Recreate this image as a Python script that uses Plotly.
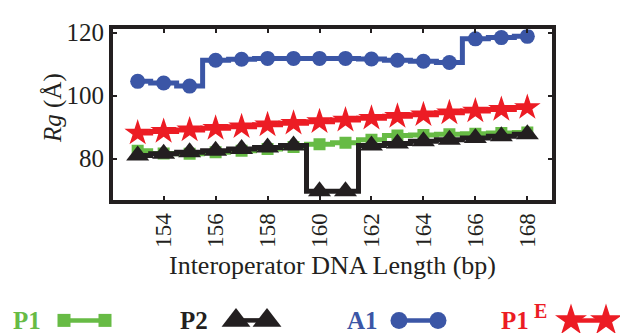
import plotly.graph_objects as go

# ---- data ----
length_bp = [153, 154, 155, 156, 157, 158, 159, 160, 161, 162, 163, 164, 165, 166, 167, 168]
rg_A1 = [104.5, 104.0, 103.0, 111.2, 111.5, 111.8, 111.8, 111.8, 111.8, 111.6, 111.2, 110.9, 110.5, 118.0, 118.4, 118.8]
rg_P1E = [88.1, 88.6, 89.1, 89.6, 90.1, 90.7, 91.2, 91.7, 92.2, 92.8, 93.4, 93.9, 94.5, 95.1, 95.6, 96.2]
rg_P1 = [82.5, 81.6, 81.5, 82.0, 82.5, 83.0, 83.7, 84.5, 85.0, 86.0, 87.3, 87.5, 87.7, 87.9, 88.1, 88.3]
rg_P2 = [81.0, 81.5, 82.0, 82.5, 83.0, 83.5, 84.1, 69.6, 69.6, 84.1, 84.8, 85.5, 86.0, 86.5, 87.1, 87.7]
x_ticks = [154, 156, 158, 160, 162, 164, 166, 168]
y_ticks = [80, 100, 120]

C_GREEN = "#67bb45"
C_BLACK = "#231f20"
C_BLUE = "#3b56a6"
C_RED = "#ec1c24"
FONT = "Liberation Serif, Times New Roman, serif"

W, H = 620, 333
L, R, T, B = 113, 552, 20, 196

fig = go.Figure()

series = [
    ("A1", rg_A1, C_BLUE, "circle", 15),
    ("P1E", rg_P1E, C_RED, "star", 20),
    ("P1", rg_P1, C_GREEN, "square", 12),
    ("P2", rg_P2, C_BLACK, "triangle-up", 20),
]
for name, ys, col, sym, sz in series:
    fig.add_trace(go.Scatter(
        x=length_bp, y=ys, mode="lines+markers", name=name,
        line=dict(color=col, width=5, shape="hvh"),
        marker=dict(symbol=sym, size=sz, color=col, line=dict(width=0)),
        showlegend=False, xaxis="x", yaxis="y",
    ))

# ---- custom legend (text before symbol) on a pixel-coordinate overlay axis ----
leg_y = 320
leg_items = [
    ("P1", C_GREEN, "square", 13, 64, 105, 27),
    ("P2", C_BLACK, "triangle-up", 25, 236, 267, 194),
    ("A1", C_BLUE, "circle", 17, 399, 438, 362),
    ("P1", C_RED, "star", 24, 571, 606, 515),
]
for label, col, sym, sz, xa, xb, tx in leg_items:
    fig.add_trace(go.Scatter(
        x=[xa, xb], y=[leg_y, leg_y], mode="lines+markers",
        line=dict(color=col, width=4.5),
        marker=dict(symbol=sym, size=sz, color=col, line=dict(width=0)),
        showlegend=False, xaxis="x2", yaxis="y2", hoverinfo="skip",
    ))
    fig.add_annotation(
        x=tx / W, y=1 - leg_y / H, xref="paper", yref="paper",
        text=f"<b>{label}</b>", showarrow=False,
        font=dict(family=FONT, size=25, color=col),
        xanchor="center", yanchor="middle",
    )
# superscript E of P1^E, drawn nearly full size and raised as in the reference
fig.add_annotation(
    x=540 / W, y=1 - 310 / H, xref="paper", yref="paper",
    text="<b>E</b>", showarrow=False,
    font=dict(family=FONT, size=20, color=C_RED),
    xanchor="center", yanchor="middle",
)
# y-axis title (placed as in the reference, slightly above the plot centre)
fig.add_annotation(
    x=53 / W, y=1 - 101 / H, xref="paper", yref="paper",
    text="<i>Rg</i> (Å)", showarrow=False, textangle=-90,
    font=dict(family=FONT, size=25, color=C_BLACK),
    xanchor="center", yanchor="middle",
)

axis_common = dict(
    showline=True, linecolor=C_BLACK, linewidth=4, mirror="ticks",
    ticks="inside", ticklen=4, tickwidth=2, tickcolor=C_BLACK,
    showgrid=False, zeroline=False,
)

fig.update_layout(
    width=W, height=H,
    margin=dict(l=0, r=0, t=0, b=0),
    paper_bgcolor="white", plot_bgcolor="rgba(0,0,0,0)",
    font=dict(family=FONT, color=C_BLACK),
    xaxis=dict(
        domain=[L / W, R / W], range=[152.05, 168.95],
        tickvals=x_ticks, tickangle=-90,
        tickfont=dict(family=FONT, size=23, color=C_BLACK),
        title=dict(text="Interoperator DNA Length (bp)",
                   font=dict(family=FONT, size=26, color=C_BLACK), standoff=10),
        **axis_common,
    ),
    yaxis=dict(
        domain=[1 - B / H, 1 - T / H], range=[66.8, 121.0],
        tickvals=y_ticks,
        tickfont=dict(family=FONT, size=25, color=C_BLACK),
        **axis_common,
    ),
    xaxis2=dict(domain=[0, 1], range=[0, W], visible=False, fixedrange=True, anchor="y2"),
    yaxis2=dict(domain=[0, 1], range=[H, 0], visible=False, fixedrange=True, anchor="x2"),
)

fig.write_html("out.html")
